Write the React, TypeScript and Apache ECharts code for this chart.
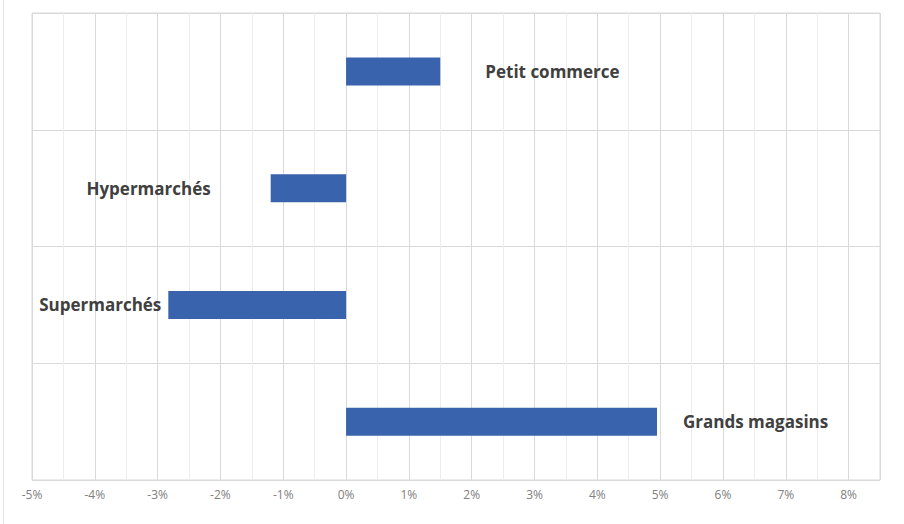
import React, { useEffect, useRef } from "react";
import * as echarts from "echarts";

const categories = ["Petit commerce", "Hypermarchés", "Supermarchés", "Grands magasins"];
const values = [1.5, -1.2, -2.83, 4.95];
const axisMin = -5;
const axisMax = 8.5;
const axisStep = 1;

export default function App() {
  const ref = useRef<HTMLDivElement>(null);
  useEffect(() => {
    if (!ref.current) return;
    const chart = echarts.init(ref.current, undefined, { renderer: "svg" });
    const gaps = [45, 60, 7, 26];
    chart.setOption({
      animation: false,
      backgroundColor: "#ffffff",
      grid: {
        left: 32,
        right: 24,
        top: 13,
        bottom: 44,
        show: true,
        borderColor: "#d9d9d9",
        borderWidth: 1,
      },
      graphic: [
        {
          type: "line",
          shape: { x1: 3.5, y1: 0, x2: 3.5, y2: 524 },
          style: { stroke: "#e4e4e4", lineWidth: 1 },
          silent: true,
        },
      ],
      xAxis: {
        type: "value",
        min: axisMin,
        max: axisMax,
        interval: axisStep,
        axisLine: { show: false },
        axisTick: { show: false },
        axisLabel: {
          color: "#808080",
          fontFamily: "Open Sans",
          fontSize: 12,
          margin: 8,
          formatter: (v: number) => (Number.isInteger(v) ? `${v}%` : ""),
        },
        splitLine: { show: true, lineStyle: { color: "#d9d9d9", width: 1 } },
        minorTick: { show: false, splitNumber: 2 },
        minorSplitLine: { show: true, lineStyle: { color: "#ededed", width: 1 } },
      },
      yAxis: {
        type: "category",
        inverse: true,
        data: categories,
        axisLine: { show: false },
        axisTick: { show: false },
        axisLabel: { show: false },
        splitLine: { show: true, lineStyle: { color: "#d9d9d9", width: 1 } },
      },
      series: [
        {
          type: "bar",
          barWidth: 28,
          itemStyle: { color: "#3A63AD" },
          data: values.map((v, i) => ({
            value: v,
            label: {
              show: true,
              position: "outside",
              distance: gaps[i],
              formatter: "{b}",
              color: "#404040",
              fontFamily: "Open Sans",
              fontWeight: "bold",
              fontSize: 17,
            },
          })),
        },
      ],
    });
    return () => chart.dispose();
  }, []);
  return (
    <div
      ref={ref}
      style={{ position: "fixed", left: 0, top: 0, width: 904, height: 524, background: "#fff" }}
    />
  );
}
